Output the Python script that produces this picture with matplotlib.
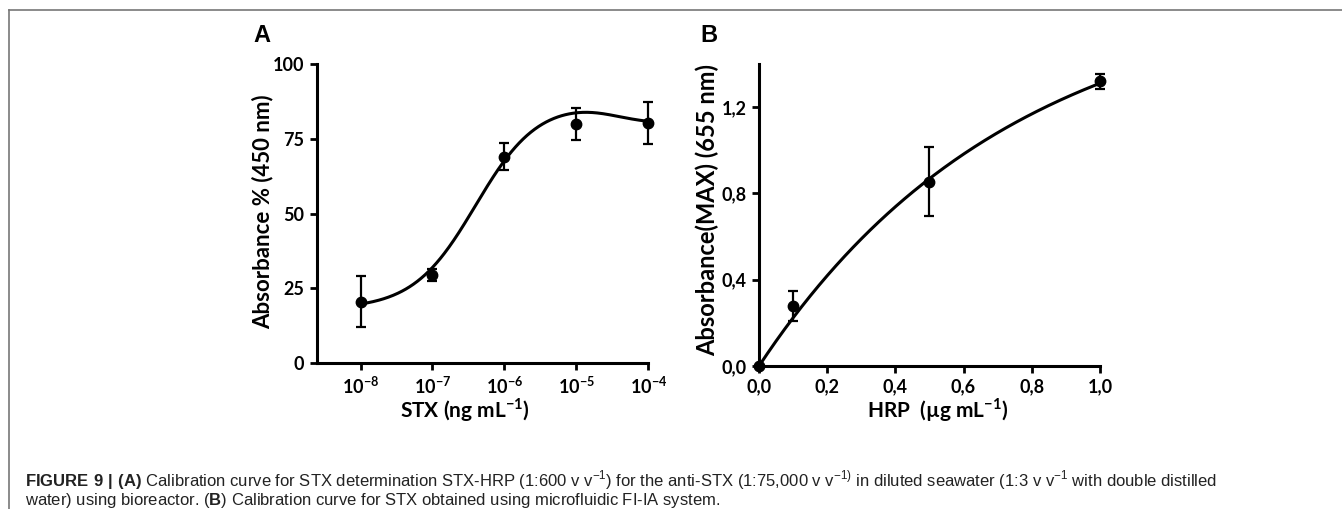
import matplotlib
matplotlib.use("Agg")
import matplotlib.pyplot as plt
import numpy as np
from matplotlib.lines import Line2D

plt.rcParams['mathtext.fontset'] = 'custom'
plt.rcParams['mathtext.rm'] = 'Liberation Sans'
plt.rcParams['mathtext.bf'] = 'Liberation Sans:bold'

# Panel A data (STX calibration, bioreactor)
stx_conc = [1e-8, 1e-7, 1e-6, 1e-5, 1e-4]
stx_abs = [20.5, 29.5, 69.0, 80.0, 80.3]
stx_err = [8.5, 2.0, 4.5, 5.4, 7.1]
stx_yticks = [0, 25, 50, 75, 100]
# bell-shaped dose-response fit
fitA = dict(bottom1=18.0, dip=87.5, bottom2=80.0, ec1=-6.4, h1=1.0, ec2=-4.5, h2=1.5)

# Panel B data (microfluidic FI-IA)
hrp_conc = [0.0, 0.1, 0.5, 1.0]
hrp_abs = [0.0, 0.28, 0.855, 1.32]
hrp_err = [0.0, 0.07, 0.16, 0.035]
hrp_xticks = [0.0, 0.2, 0.4, 0.6, 0.8, 1.0]
hrp_yticks = [0.0, 0.4, 0.8, 1.2]
# one-phase association fit
fitB = dict(ymax=1.77, k=1.35)

TICKFONT = ['Liberation Sans Narrow', 'Lato']
LABELFONT = ['Lato', 'DejaVu Sans']


def bell(logx, p):
    rise = (p['dip'] - p['bottom1']) / (1 + 10 ** ((p['ec1'] - logx) * p['h1']))
    fall = (p['bottom2'] - p['dip']) / (1 + 10 ** ((p['ec2'] - logx) * p['h2']))
    return p['bottom1'] + rise + fall


def style_axes(ax):
    for side in ['top', 'right']:
        ax.spines[side].set_visible(False)
    for side in ['left', 'bottom']:
        ax.spines[side].set_linewidth(2.2)
    ax.tick_params(axis='both', which='major', direction='out', width=2.0,
                   length=5, pad=4, labelsize=13)
    ax.tick_params(axis='both', which='minor', length=0)
    for lab in ax.get_xticklabels() + ax.get_yticklabels():
        lab.set_family(TICKFONT)
        lab.set_fontweight('bold')


fig = plt.figure(figsize=(13.42, 5.09), dpi=100)

# frame lines of the page
fig.add_artist(Line2D([9 / 1342, 1], [1 - 9.5 / 509, 1 - 9.5 / 509], color='#777777', lw=1.2))
fig.add_artist(Line2D([9 / 1342, 9 / 1342], [0, 1 - 9.5 / 509], color='#777777', lw=1.2))

# Panel A
axA = fig.add_axes([0.236, 0.287, 0.247, 0.587])
lx = np.linspace(-8, -4, 300)
axA.plot(10 ** lx, bell(lx, fitA), color='black', lw=2.2)
axA.errorbar(stx_conc, stx_abs, yerr=stx_err, fmt='o', color='black', ms=7.5,
             elinewidth=1.6, capsize=3.5, capthick=1.6, clip_on=False)
axA.set_xscale('log')
axA.set_xlim(10 ** -8.61, 1e-4)
axA.set_ylim(0, 100)
axA.set_yticks(stx_yticks)
axA.set_xticks(stx_conc)
style_axes(axA)
axA.set_ylabel('Absorbance % (450 nm)', family=LABELFONT, fontweight='bold', fontsize=16)
axA.set_xlabel(r'STX (ng mL$^{\mathdefault{-1}}$)', family=LABELFONT, fontweight='bold', fontsize=15)
axA.yaxis.set_label_coords(-0.162, 0.505)
axA.yaxis.label.set_va('center')
axA.xaxis.set_label_coords(0.448, -0.157)
axA.xaxis.label.set_va('center')

# Panel B
axB = fig.add_axes([0.5656, 0.281, 0.254, 0.593])
xb = np.linspace(0, 1, 200)
axB.plot(xb, fitB['ymax'] * (1 - np.exp(-fitB['k'] * xb)), color='black', lw=2.2)
axB.errorbar(hrp_conc, hrp_abs, yerr=hrp_err, fmt='o', color='black', ms=7.5,
             elinewidth=1.6, capsize=3.5, capthick=1.6, clip_on=False)
axB.set_xlim(0, 1.0)
axB.set_ylim(0, 1.4)
axB.set_xticks(hrp_xticks)
axB.set_xticklabels([f'{v:.1f}'.replace('.', ',') for v in hrp_xticks])
axB.set_yticks(hrp_yticks)
axB.set_yticklabels([f'{v:.1f}'.replace('.', ',') for v in hrp_yticks])
style_axes(axB)
axB.set_ylabel('Absorbance(MAX) (655 nm)', family=LABELFONT, fontweight='bold', fontsize=17)
axB.set_xlabel(r'HRP  (µg mL$^{\mathdefault{-1}}$)', family=LABELFONT, fontweight='bold', fontsize=15)
axB.yaxis.set_label_coords(-0.152, 0.517)
axB.yaxis.label.set_va('center')
axB.xaxis.set_label_coords(0.525, -0.146)
axB.xaxis.label.set_va('center')

# panel letters
fig.text(253 / 1342, 1 - 36 / 509, 'A', family='Liberation Sans', fontweight='bold',
         fontsize=17, va='center', ha='left')
fig.text(700 / 1342, 1 - 36 / 509, 'B', family='Liberation Sans', fontweight='bold',
         fontsize=17, va='center', ha='left')

# caption
cap1 = (r'$\mathbf{FIGURE\ 9\ |\ (A)}$ Calibration curve for STX determination STX-HRP '
        r'(1:600 v v$^{\mathdefault{-1}}$) for the anti-STX (1:75,000 v v$^{\mathdefault{-1)}}$ '
        r'in diluted seawater (1:3 v v$^{\mathdefault{-1}}$ with double distilled')
cap2 = r'water) using bioreactor. ($\mathbf{B}$) Calibration curve for STX obtained using microfluidic FI-IA system.'
fig.text(25 / 1342, 1 - 486 / 509, cap1, family='Liberation Sans', fontsize=12, va='baseline', color='#222222')
fig.text(25 / 1342, 1 - 505 / 509, cap2, family='Liberation Sans', fontsize=12, va='baseline', color='#222222')

fig.savefig('out.png', dpi=100)
